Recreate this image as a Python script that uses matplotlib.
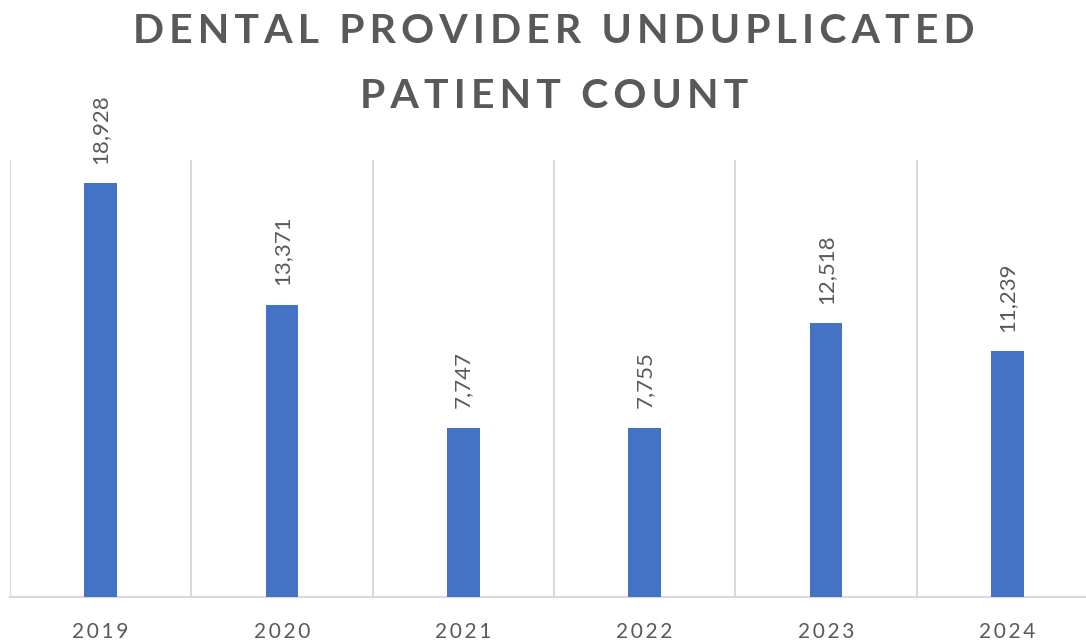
import matplotlib
matplotlib.use("Agg")
import matplotlib.pyplot as plt

# data
years = ["2019", "2020", "2021", "2022", "2023", "2024"]
patients = [18928, 13371, 7747, 7755, 12518, 11239]
title_lines = ["DENTAL PROVIDER UNDUPLICATED", "PATIENT COUNT"]

BLUE = "#4472C4"
GREY = "#595959"
GRID = "#D9D9D9"
FONT = ["Lato", "DejaVu Sans"]


def spaced(s, gap="\u2009"):
    # fake letter spacing with thin spaces
    return gap.join(list(s))


fig = plt.figure(figsize=(10.86, 6.42), dpi=100)
ax = fig.add_axes([10 / 1086, 45 / 642, 1088 / 1086, 437 / 642])

x = list(range(len(years)))
ax.bar(x, patients, width=0.18, color=BLUE, zorder=3)

ax.set_xlim(-0.5, len(years) - 0.5)
ax.set_ylim(0, 20000)

# vertical separators between categories
for b in range(len(years) + 1):
    ax.axvline(b - 0.5, color=GRID, lw=1.5, zorder=1)

for s in ["top", "right", "left"]:
    ax.spines[s].set_visible(False)
ax.spines["bottom"].set_color(GRID)
ax.spines["bottom"].set_linewidth(1.5)
ax.set_yticks([])
ax.set_xticks(x)
ax.set_xticklabels([spaced(y) for y in years], family=FONT,
                   fontsize=15, color=GREY)
ax.tick_params(axis="x", length=0, pad=18)

for xi, v in zip(x, patients):
    ax.annotate(f"{v:,}", (xi, v), xytext=(0, 14), textcoords="offset points",
                rotation=90, ha="center", va="bottom", family=FONT,
                fontsize=16, color=GREY)

tx = 554 / 1086
fig.text(tx, 1 - 43 / 642, spaced(title_lines[0]), ha="center",
         va="baseline", family=FONT, fontsize=29.5, fontweight="bold", color=GREY)
fig.text(tx, 1 - 108 / 642, spaced(title_lines[1]), ha="center",
         va="baseline", family=FONT, fontsize=29.5, fontweight="bold", color=GREY)

fig.savefig("out.png", dpi=100)
